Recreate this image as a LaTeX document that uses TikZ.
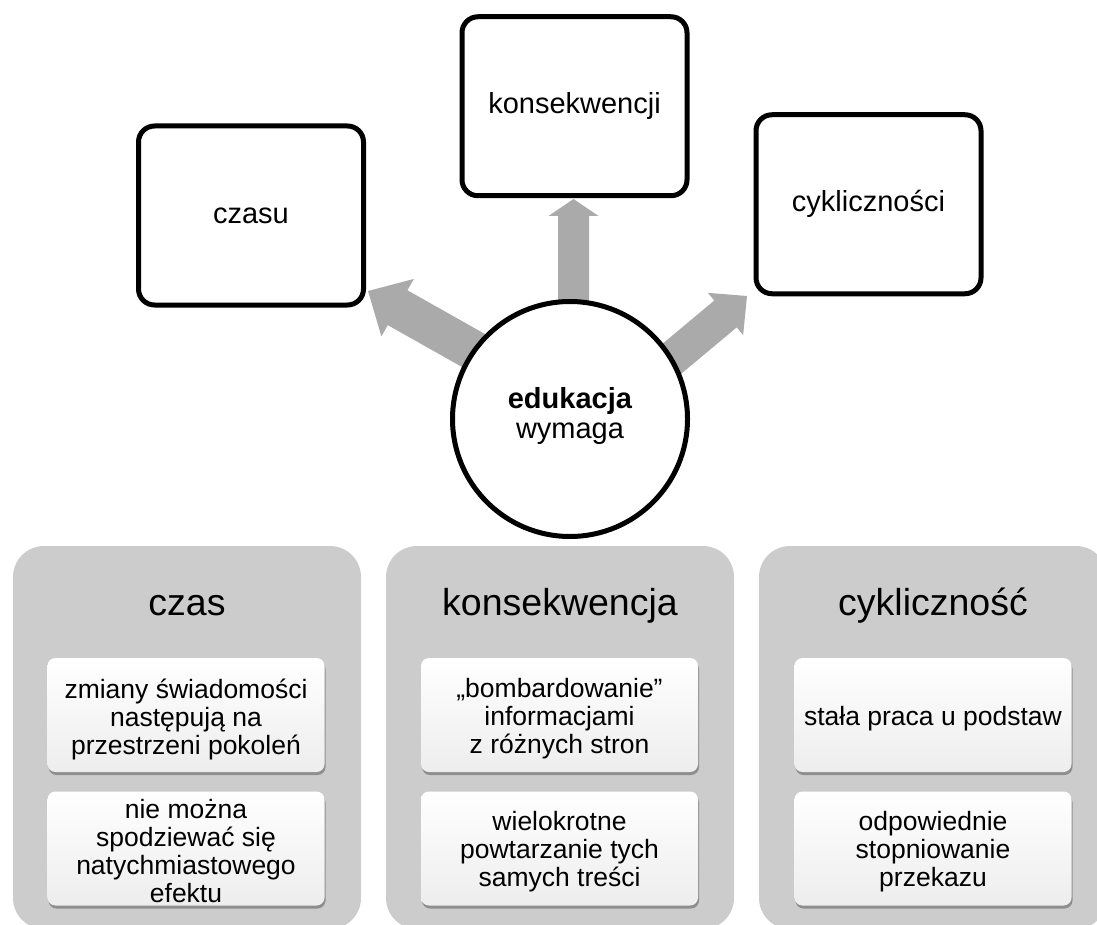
\documentclass[tikz,border=0pt]{standalone}
\usepackage{fontspec}
\setmainfont{Liberation Sans}
\usetikzlibrary{calc,shadows}
\definecolor{arrowgray}{HTML}{AAAAAA}
\definecolor{panelgray}{HTML}{CCCCCC}
% block arrow: #1 tail, #2 tip, #3 shaft half width, #4 head half width, #5 head length
\newcommand\blockarrow[5]{%
  \coordinate (ab) at ($(#2)!#5!(#1)$);
  \fill[arrowgray] ($(#1)!#3!90:(#2)$) -- ($(ab)!#3!-90:(#1)$) -- ($(ab)!#4!-90:(#1)$)
    -- (#2) -- ($(ab)!#4!90:(#1)$) -- ($(ab)!#3!90:(#1)$) -- ($(#1)!#3!-90:(#2)$) -- cycle;
}
\begin{document}
\begin{tikzpicture}[x=1pt,y=-1pt,
  topbox/.style={draw, fill=white, line width=5pt, rounded corners=16pt,
    minimum width=225pt, minimum height=179pt, inner sep=0pt,
    font=\fontsize{29}{33}\selectfont},
  hub/.style={circle, draw, fill=white, line width=5pt, minimum size=235pt,
    inner sep=0pt},
  hubtext/.style={align=center, inner sep=0pt, font=\fontsize{29}{30}\selectfont},
  panel/.style={fill=panelgray, rounded corners=31pt, minimum width=348pt,
    minimum height=383pt, inner sep=0pt},
  ptitle/.style={anchor=base, inner sep=0pt, font=\fontsize{37.5}{40}\selectfont},
  inbox/.style={rounded corners=8pt, minimum width=277pt, minimum height=114pt,
    inner sep=0pt, top color=white, bottom color=black!7,
    drop shadow={shadow xshift=1pt, shadow yshift=-3pt, fill=black, opacity=0.3}},
  intext/.style={align=center, inner sep=0pt, font=\fontsize{26.5}{28}\selectfont}
]
\useasboundingbox (0,0) rectangle (1097,925);
\begin{scope}
  \clip (0,0) rectangle (1097,925);
  \node[panel] (p1) at (187,737.5) {};
  \node[panel] (p2) at (560,737.5) {};
  \node[panel] (p3) at (933,737.5) {};
\end{scope}
\node[ptitle] (t1) at (187,615) {czas};
\node[ptitle] (t2) at (560,615) {konsekwencja};
\node[ptitle] (t3) at (933,615) {cykliczność};

\node[inbox] (a1) at (186,715) {};
\node[inbox] (a2) at (186,848.5) {};
\node[inbox] (b1) at (559.5,715) {};
\node[inbox] (b2) at (559.5,848.5) {};
\node[inbox] (c1) at (933,715) {};
\node[inbox] (c2) at (933,848.5) {};
\node[intext] (a1t) at ($(a1)+(0,4)$) {zmiany świadomości\\następują na\\przestrzeni pokoleń};
\node[intext] (a2t) at ($(a2)+(0,3)$) {nie można\\spodziewać się\\natychmiastowego\\efektu};
\node[intext] (b1t) at ($(b1)+(0,4)$) {„bombardowanie”\\informacjami\\z różnych stron};
\node[intext] (b2t) at ($(b2)+(0,3)$) {wielokrotne\\powtarzanie tych\\samych treści};
\node[intext] (c1t) at ($(c1)+(0,4)$) {stała praca u podstaw};
\node[intext] (c2t) at ($(c2)+(0,3)$) {odpowiednie\\stopniowanie\\przekazu};

% arrows
\coordinate (lt) at (485,357);  \coordinate (lp) at (368,291);
\coordinate (ut) at (573.5,330); \coordinate (up) at (573.5,199);
\coordinate (rt) at (656,372);  \coordinate (rp) at (747,296);
\blockarrow{lt}{lp}{20pt}{33pt}{34pt}
\blockarrow{ut}{up}{15.5pt}{25pt}{17pt}
\blockarrow{rt}{rp}{17.5pt}{27.5pt}{28pt}

\node[topbox] (czasu) at (251,215.5) {czasu};
\node[topbox] (kons) at (574.5,106.25) {konsekwencji};
\node[topbox] (cykl) at (868.5,204.25) {cykliczności};

\node[hub] (hub) at (570,419) {};
\node[hubtext] (hubt) at ($(hub)+(0,-3)$) {\textbf{edukacja}\\wymaga};
\end{tikzpicture}
\end{document}
